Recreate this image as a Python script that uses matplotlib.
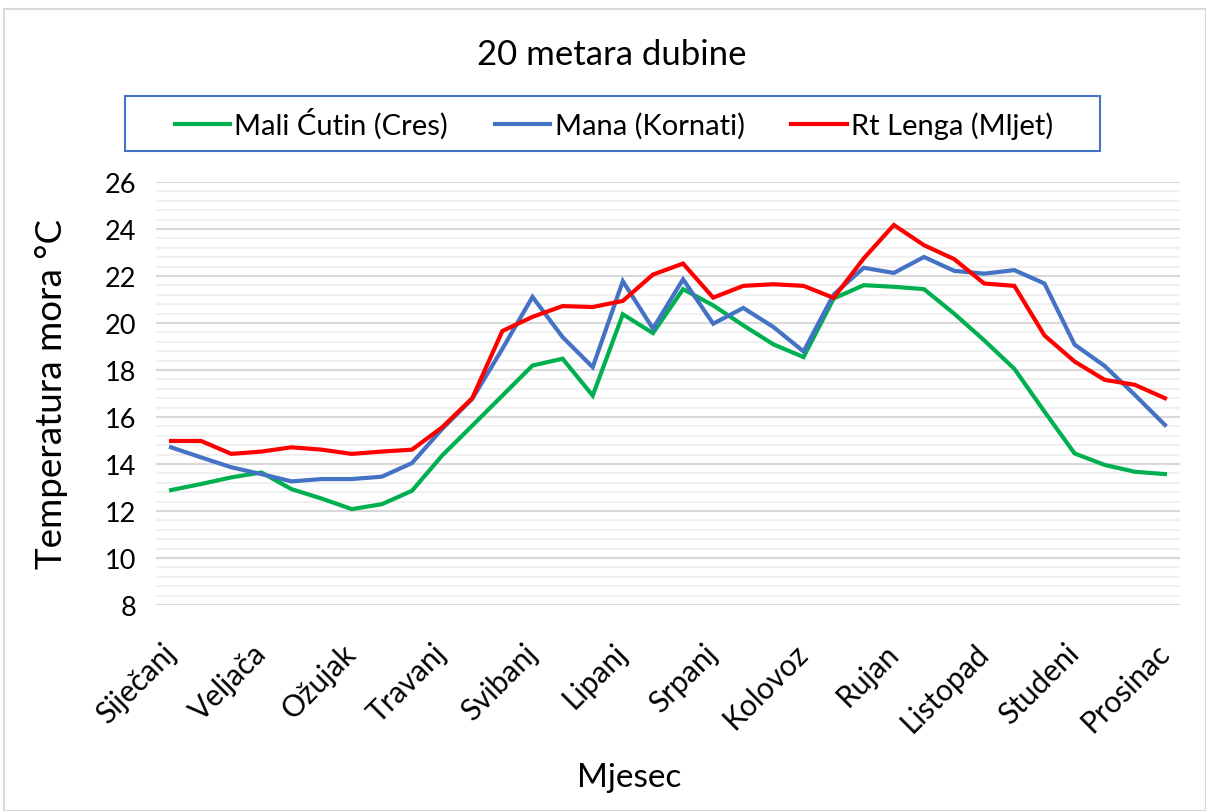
import matplotlib

matplotlib.use("Agg")
import matplotlib.pyplot as plt
from matplotlib.patches import Rectangle
from matplotlib.ticker import MultipleLocator

plt.rcParams["font.family"] = ["Lato", "DejaVu Sans"]

# three readings per month (dekads), 34 values per station
months = ["Siječanj", "Veljača", "Ožujak", "Travanj", "Svibanj", "Lipanj",
          "Srpanj", "Kolovoz", "Rujan", "Listopad", "Studeni", "Prosinac"]

mali_cutin = [12.89, 13.15, 13.43, 13.64, 12.93, 12.53, 12.08, 12.29, 12.86, 14.36,
              15.63, 16.91, 18.19, 18.48, 16.91, 20.37, 19.57, 21.44, 20.75, 19.90,
              19.09, 18.55, 21.04, 21.61, 21.54, 21.44, 20.40, 19.26, 18.05, 16.23,
              14.45, 13.96, 13.67, 13.57]
mana = [14.71, 14.28, 13.86, 13.57, 13.26, 13.36, 13.36, 13.46, 14.04, 15.49,
        16.77, 18.90, 21.11, 19.40, 18.12, 21.78, 19.76, 21.86, 19.97, 20.64,
        19.83, 18.79, 21.21, 22.35, 22.13, 22.81, 22.22, 22.10, 22.25, 21.68,
        19.08, 18.17, 16.94, 15.66]
rt_lenga = [14.98, 14.98, 14.43, 14.53, 14.71, 14.61, 14.43, 14.53, 14.61, 15.56,
            16.80, 19.66, 20.26, 20.72, 20.68, 20.94, 22.06, 22.53, 21.08, 21.58,
            21.65, 21.58, 21.07, 22.75, 24.17, 23.31, 22.72, 21.68, 21.58, 19.47,
            18.36, 17.58, 17.37, 16.80]

series = [
    ("Mali Ćutin (Cres)", mali_cutin, "#00B050"),
    ("Mana (Kornati)", mana, "#4472C4"),
    ("Rt Lenga (Mljet)", rt_lenga, "#FF0000"),
]

W, H = 1206, 812
fig = plt.figure(figsize=(W / 100, H / 100), dpi=100)
fig.patches.append(Rectangle((4 / W, 0), 1 - 4 / W, 1 - 10 / H, transform=fig.transFigure,
                             fill=False, edgecolor="#d9d9d9", linewidth=1.5))

ax = fig.add_axes([156 / W, 1 - 606 / H, 1024 / W, 423 / H])

x = list(range(len(mali_cutin)))
for label, values, color in series:
    ax.plot(x, values, color=color, linewidth=3.0, label=label, solid_joinstyle="miter")

ax.set_xlim(-0.5, len(x) - 0.5)
ax.set_ylim(8, 26)
ax.yaxis.set_major_locator(MultipleLocator(2))
ax.yaxis.set_minor_locator(MultipleLocator(0.4))
ax.grid(which="major", axis="y", color="#d9d9d9", linewidth=1.5)
ax.grid(which="minor", axis="y", color="#f0f0f0", linewidth=1.5)
ax.set_axisbelow(True)
for spine in ax.spines.values():
    spine.set_visible(False)

ax.set_xticks(x[::3])
ax.set_xticklabels(months, rotation=45, ha="right", va="center", rotation_mode="anchor",
                   fontsize=21.5)
ax.tick_params(axis="both", which="both", length=0)
ax.tick_params(axis="y", labelsize=19.5, pad=14)
ax.tick_params(axis="x", pad=31)

fig.text(629 / W, 1 - 778 / H, "Mjesec", ha="center", va="center", fontsize=24)
fig.text(52 / W, 1 - 394 / H, "Temperatura mora °C", ha="center", va="center",
         rotation=90, fontsize=26.5)
fig.text(612 / W, 1 - 55 / H, "20 metara dubine", ha="center", va="center", fontsize=25)

# legend box drawn separately so it can span the width of the reference frame
fig.patches.append(Rectangle((125 / W, 1 - 152 / H), 975 / W, 55 / H, transform=fig.transFigure,
                             fill=False, edgecolor="#4472C4", linewidth=1.5))
fig.legend(loc="center", bbox_to_anchor=(614 / W, 1 - 124.5 / H), ncol=3, fontsize=21,
           frameon=False, handlelength=1.9, handletextpad=0.15, columnspacing=1.6)

fig.savefig("out.png", dpi=100)
plt.close(fig)
